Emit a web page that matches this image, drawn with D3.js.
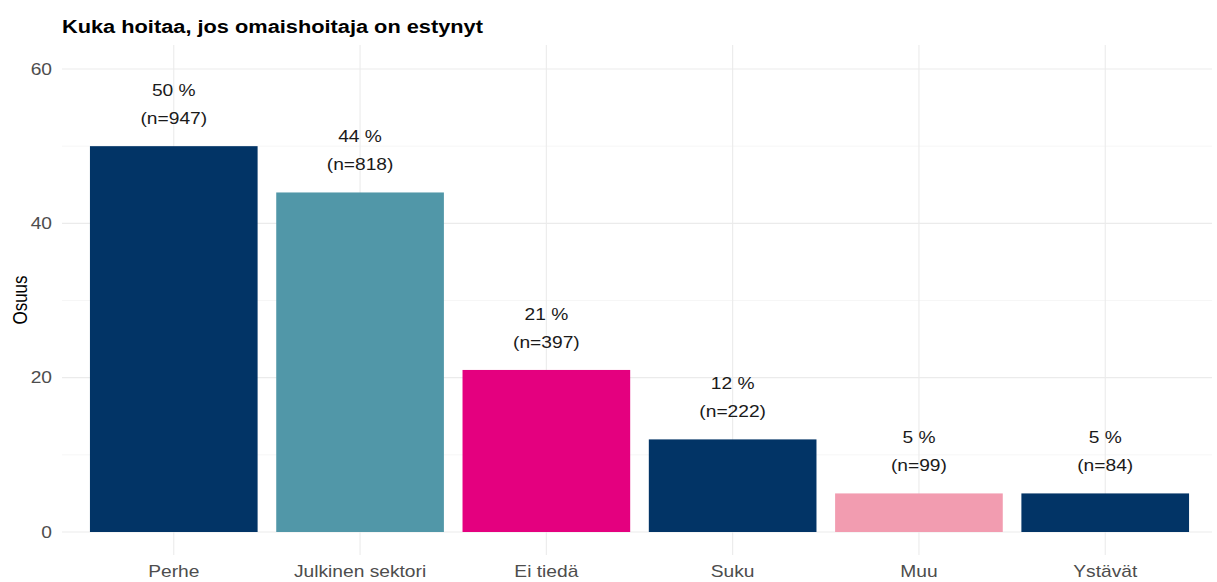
<!DOCTYPE html>
<html>
<head>
<meta charset="utf-8">
<script src="https://d3js.org/d3.v7.min.js"></script>
<style>
  body { margin: 0; background: white; }
  text { font-family: "Liberation Sans", Arial, sans-serif; }
</style>
</head>
<body>
<svg width="1217" height="582"></svg>
<script>
// data
var categories = ["Perhe", "Julkinen sektori", "Ei tiedä", "Suku", "Muu", "Ystävät"];
var shares = [50, 44, 21, 12, 5, 5];
var counts = [947, 818, 397, 222, 99, 84];
var barColors = ["#023466", "#5197a8", "#e4007f", "#023466", "#f29cb0", "#023466"];
var yTicks = [0, 20, 40, 60];
var yMinor = [10, 30, 50];

var svg = d3.select("svg");

// the reference looks a bit wider than tall, so text is stretched sideways
var sx = 1.2;
function place(x, y) { return "translate(" + x + "," + y + ") scale(" + sx + ",1)"; }

var xs = d3.scaleBand().domain(categories).range([62, 1217]).paddingInner(0.1).paddingOuter(0.15);
var ys = d3.scaleLinear().domain([0, 60]).range([532, 69]);
var panelTop = 45, panelBottom = 555;
function mid(d) { return xs(d) + xs.bandwidth() / 2; }

// minor gridlines
svg.append("g").selectAll("line").data(yMinor).enter().append("line")
   .attr("x1", 62).attr("x2", 1212)
   .attr("y1", function(d) { return ys(d); }).attr("y2", function(d) { return ys(d); })
   .attr("stroke", "#f4f4f4").attr("stroke-width", 0.8);

// major gridlines
svg.append("g").selectAll("line").data(yTicks).enter().append("line")
   .attr("x1", 62).attr("x2", 1212)
   .attr("y1", function(d) { return ys(d); }).attr("y2", function(d) { return ys(d); })
   .attr("stroke", "#ebebeb").attr("stroke-width", 1.1);

// vertical gridlines
svg.append("g").selectAll("line").data(categories).enter().append("line")
   .attr("x1", mid).attr("x2", mid)
   .attr("y1", panelTop).attr("y2", panelBottom)
   .attr("stroke", "#ebebeb").attr("stroke-width", 1.1);

// bars
svg.append("g").selectAll("rect").data(categories).enter().append("rect")
   .attr("x", function(d) { return xs(d); })
   .attr("width", xs.bandwidth())
   .attr("y", function(d, i) { return ys(shares[i]); })
   .attr("height", function(d, i) { return ys(0) - ys(shares[i]); })
   .attr("fill", function(d, i) { return barColors[i]; });

// value labels
var lab = svg.append("g").selectAll("text").data(categories).enter().append("text")
   .attr("text-anchor", "middle")
   .attr("transform", function(d, i) { return place(mid(d), ys(shares[i]) - 50); })
   .style("font-size", "16px").style("fill", "#1a1a1a");
lab.append("tspan").attr("x", 0).text(function(d, i) { return shares[i] + " %"; });
lab.append("tspan").attr("x", 0).attr("dy", 28)
   .text(function(d, i) { return "(n=" + counts[i] + ")"; });

// y axis tick labels
svg.append("g").selectAll("text").data(yTicks).enter().append("text")
   .attr("transform", function(d) { return place(52, ys(d)); })
   .attr("dy", "0.35em").attr("text-anchor", "end")
   .style("font-size", "16px").style("fill", "#4d4d4d")
   .text(function(d) { return d; });

// x axis labels
svg.append("g").selectAll("text").data(categories).enter().append("text")
   .attr("transform", function(d) { return place(mid(d), 577); })
   .attr("text-anchor", "middle")
   .style("font-size", "16px").style("fill", "#4d4d4d")
   .text(function(d) { return d; });

// y axis title
svg.append("text")
   .attr("transform", "translate(27," + ((panelTop + panelBottom) / 2) + ") rotate(-90) scale(1,1.2)")
   .attr("text-anchor", "middle")
   .style("font-size", "17px").style("fill", "black")
   .text("Osuus");

// title
svg.append("text")
   .attr("transform", "translate(62,33) scale(1.21,1)")
   .style("font-size", "18px").style("font-weight", "bold").style("fill", "black")
   .text("Kuka hoitaa, jos omaishoitaja on estynyt");
</script>
</body>
</html>
